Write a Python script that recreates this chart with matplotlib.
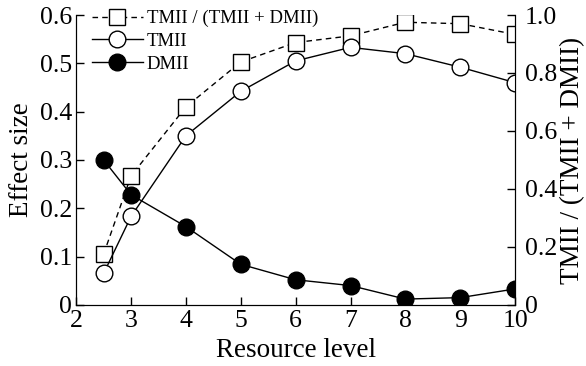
import matplotlib
matplotlib.use("Agg")
import matplotlib.pyplot as plt

plt.rcParams['font.family'] = ['Liberation Serif', 'DejaVu Serif']

# resource levels
resource = [2.5, 3, 4, 5, 6, 7, 8, 9, 10]
# effect sizes
tmii = [0.065, 0.183, 0.350, 0.442, 0.505, 0.533, 0.520, 0.492, 0.460]
dmii = [0.300, 0.228, 0.162, 0.084, 0.052, 0.040, 0.012, 0.015, 0.033]
# ratio on the right axis
ratio = [0.175, 0.445, 0.683, 0.838, 0.905, 0.928, 0.975, 0.970, 0.933]

fig = plt.figure(figsize=(5.86, 3.66), dpi=100)
ax = fig.add_axes([0.13, 0.167, 0.749, 0.792])
ax2 = ax.twinx()

l3, = ax2.plot(resource, ratio, ls=(0, (4, 3)), color='black', lw=1,
               marker='s', ms=11, mfc='white', mec='black', mew=1)
l1, = ax.plot(resource, tmii, ls='-', color='black', lw=1,
              marker='o', ms=12, mfc='white', mec='black', mew=1)
l2, = ax.plot(resource, dmii, ls='-', color='black', lw=1,
              marker='o', ms=12, mfc='black', mec='black')
ax.set_zorder(ax2.get_zorder() + 1)
ax.patch.set_visible(False)

ax.set_xlim(2, 10)
ax.set_ylim(0, 0.6)
ax2.set_ylim(0, 1.0)
ax.set_xticks(range(2, 11))
ax.set_yticks([0, 0.1, 0.2, 0.3, 0.4, 0.5, 0.6])
ax.set_yticklabels(['0', '0.1', '0.2', '0.3', '0.4', '0.5', '0.6'])
ax2.set_yticks([0, 0.2, 0.4, 0.6, 0.8, 1.0])
ax2.set_yticklabels(['0', '0.2', '0.4', '0.6', '0.8', '1.0'])

for a in (ax, ax2):
    a.spines['top'].set_visible(False)
    a.tick_params(direction='in', length=6, labelsize=18.5, width=1, pad=3)
ax.tick_params(axis='x', pad=4)
ax2.tick_params(axis='y', pad=7)

ax.set_xlabel('Resource level', fontsize=19.5, labelpad=4)
ax.set_ylabel('Effect size', fontsize=19.5, labelpad=4)
ax2.set_ylabel('TMII / (TMII + DMII)', fontsize=19.5, labelpad=2)

ax.legend([l3, l1, l2], ['TMII / (TMII + DMII)', 'TMII', 'DMII'],
          loc='upper left', frameon=False, fontsize=13.5, handlelength=2.7,
          borderaxespad=0.1, labelspacing=0.3, handletextpad=0.2,
          bbox_to_anchor=(0.015, 1.05))

fig.savefig('out.png', dpi=100)
